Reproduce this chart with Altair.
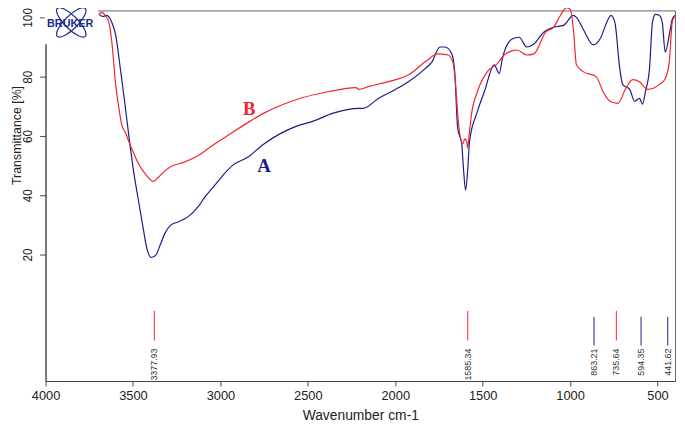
import altair as alt
import pandas as pd

# ---- Spectrum A (blue) ----
wn_A = [3695, 3672, 3650, 3621, 3599, 3570, 3548, 3525, 3497, 3469, 3440, 3423, 3395, 3367, 3344,
        3316, 3282, 3243, 3186, 3129, 3090, 3033, 2977, 2932, 2847, 2751, 2660, 2564, 2468, 2355,
        2208, 2185, 2095, 1999, 1925, 1829, 1790, 1744, 1716, 1677, 1660, 1643, 1620, 1609, 1598,
        1586, 1575, 1530, 1490, 1434, 1405, 1388, 1332, 1292, 1247, 1207, 1151, 1094, 1038, 981,
        964, 925, 868, 829, 783, 766, 744, 716, 699, 659, 631, 603, 586, 569, 546, 529, 512, 490,
        473, 456, 433, 416, 399]
t_A = [101, 100.3, 100.7, 98.3, 94, 81.7, 71.7, 60.7, 48.3, 38.3, 28.3, 22.7, 19, 20, 23.3,
       27.3, 30, 31, 32.7, 36, 39.3, 43.3, 47.3, 50, 52.7, 57.3, 60.7, 63.3, 65, 67.7,
       69.3, 69.3, 72.7, 75.7, 78.3, 82.7, 85, 90, 90, 87.7, 81.7, 62.7, 57.3, 48.3, 41.7,
       48.3, 58.3, 68.3, 75, 84, 81, 86, 92.7, 93.3, 90, 91, 95, 96.7, 97.3, 100.7,
       100, 96, 90.7, 92.7, 99.3, 100.7, 98.3, 82.7, 77.3, 75.7, 71.7, 72.7, 70.7, 75, 82.7, 98.3, 101, 100.7,
       98.3, 88.3, 94, 99.3, 100.7]

# ---- Spectrum B (red) ----
wn_B = [3695, 3678, 3655, 3638, 3621, 3599, 3582, 3565, 3542, 3525, 3497, 3469, 3423, 3384, 3356,
        3316, 3271, 3214, 3129, 3033, 2943, 2830, 2751, 2564, 2378, 2225, 2208, 2151, 2038,
        1914, 1829, 1756, 1699, 1671, 1654, 1643, 1614, 1603, 1592, 1586, 1575, 1564, 1530, 1473,
        1417, 1377, 1304, 1247, 1207, 1140, 1094, 1055, 1021, 999, 981, 964, 925, 851, 812, 772,
        727, 682, 642, 603, 557, 490, 456, 433, 416, 399]
t_B = [101, 101.7, 100.3, 98.3, 91.7, 77.3, 70, 64, 61, 58.3, 54.3, 50.7, 46.7, 44.7, 46,
       48.3, 50, 51, 53.3, 57.3, 60.7, 65, 67.7, 72.3, 75, 76.3, 75.7, 76.7, 78.3,
       81, 85, 87.7, 87.3, 85, 76.7, 67.3, 57.3, 59, 58.3, 56, 61.7, 67.3, 75, 81.7,
       84.3, 87.3, 89, 87.3, 87.7, 95, 96.7, 100.7, 103.3, 102.7, 96, 84, 81.7, 80, 75, 71.7,
       71, 76, 79, 78.3, 75.7, 77.3, 79.3, 85, 98.3, 100.7]

# ---- Peak picks ----
peak_wn = [3377.93, 1585.34, 863.21, 735.64, 594.35, 441.62]
peak_series = ["B", "B", "A", "B", "A", "A"]
peak_labels = ["3377.93", "1585.34", "863.21", "735.64", "594.35", "441.62"]

# ---- Curve labels ----
lab_text = ["A", "B"]
lab_wn = [2751, 2835]
lab_t = [50, 69]

x_ticks = [4000, 3500, 3000, 2500, 2000, 1500, 1000, 500]
y_ticks = [20, 40, 60, 80, 100]

NAVY = "#1c1c88"
RED = "#f5232a"

spec = pd.DataFrame({
    "wn": wn_A + wn_B,
    "T": t_A + t_B,
    "series": ["A"] * len(wn_A) + ["B"] * len(wn_B),
})

peak_top = {"A": -1.0, "B": 1.0}
peak_bot = {"A": -10.7, "B": -9.0}
peaks = pd.DataFrame({
    "wn": peak_wn,
    "series": peak_series,
    "label": peak_labels,
    "top": [peak_top[s] for s in peak_series],
    "bot": [peak_bot[s] for s in peak_series],
    "ly": [-11.7] * len(peak_wn),
})

labs = pd.DataFrame({"text": lab_text, "wn": lab_wn, "T": lab_t})

xscale = alt.Scale(domain=[4000, 400], nice=False, zero=False)
yscale = alt.Scale(domain=[-22.67, 102.33], nice=False, zero=False)
cscale = alt.Scale(domain=["A", "B"], range=[NAVY, RED])

xax = alt.Axis(values=x_ticks, title="Wavenumber cm-1", grid=False, tickSize=5,
               labelFontSize=13, titleFontSize=14, labelPadding=4, titlePadding=6,
               labelFlush=False, format="d")
yax = alt.Axis(values=y_ticks, title="Transmittance [%]", grid=False, tickSize=6,
               labelFontSize=12, titleFontSize=12.5, labelAngle=270, labelAlign="center",
               labelBaseline="bottom", labelPadding=5, labelFlush=False,
               titleAngle=270, titleX=-29, titleY=126, titleAlign="center",
               titleBaseline="middle", format="d")

lines = alt.Chart(spec).mark_line(strokeWidth=1.2, interpolate="monotone").encode(
    x=alt.X("wn:Q", scale=xscale, axis=xax),
    y=alt.Y("T:Q", scale=yscale, axis=yax),
    color=alt.Color("series:N", scale=cscale, legend=None),
    detail="series:N",
)

peak_colors = alt.Scale(domain=["A", "B"], range=["#3c3ca8", "#ff4a4a"])
rules = alt.Chart(peaks).mark_rule(strokeWidth=1).encode(
    x="wn:Q", y="top:Q", y2="bot:Q",
    color=alt.Color("series:N", scale=peak_colors, legend=None),
)
ptext = alt.Chart(peaks).mark_text(angle=270, align="right", baseline="middle",
                                   fontSize=9, color="#333", font="Liberation Sans").encode(
    x="wn:Q", y="ly:Q", text="label:N",
)

ab = alt.Chart(labs).mark_text(font="Liberation Serif", fontWeight="bold", fontSize=19).encode(
    x="wn:Q", y="T:Q", text="text:N",
    color=alt.Color("text:N", scale=alt.Scale(domain=["A", "B"], range=["#3a4cb5", "#e8202a"]),
                    legend=None),
)

# ---- Bruker logo ----
logo_df = pd.DataFrame({"wn": [3853], "T": [98.3]})
mask = alt.Chart(logo_df).mark_point(
    shape="M-1,-0.81H1V0.81H-1Z", filled=True, fill="white", stroke="white",
    size=2704, opacity=1,
).encode(x="wn:Q", y="T:Q")
ell1 = alt.Chart(logo_df).mark_point(
    shape="M-1,0A1,0.33,0,1,1,1,0A1,0.33,0,1,1,-1,0Z", filled=False, color="#2a3596",
    strokeWidth=1.3, size=1600, angle=45, opacity=1,
).encode(x="wn:Q", y="T:Q")
ell2 = alt.Chart(logo_df).mark_point(
    shape="M-1,0A1,0.33,0,1,1,1,0A1,0.33,0,1,1,-1,0Z", filled=False, color="#2a3596",
    strokeWidth=1.3, size=1600, angle=135, opacity=1,
).encode(x="wn:Q", y="T:Q")
logo_txt = alt.Chart(pd.DataFrame({"wn": [3859], "T": [97.7], "t": ["BRUKER"]})).mark_text(
    font="Liberation Sans", fontWeight="bold", fontSize=11, color="#1a2d8e",
).encode(x="wn:Q", y="T:Q", text="t:N")

chart = alt.layer(lines, rules, ptext, ab, mask, ell1, ell2, logo_txt).properties(
    width=637, height=375,
    padding={"left": 38, "top": 0, "right": 2, "bottom": 40},
    autosize=alt.AutoSizeParams(type="none"),
).configure_view(stroke="#666", strokeWidth=1).configure_axis(
    domainColor="#444", tickColor="#444", labelColor="#222", titleColor="#222",
    labelFont="Liberation Sans", titleFont="Liberation Sans", titleFontWeight="normal",
)

chart.save("out.html", embed_options={"renderer": "svg", "actions": False})
